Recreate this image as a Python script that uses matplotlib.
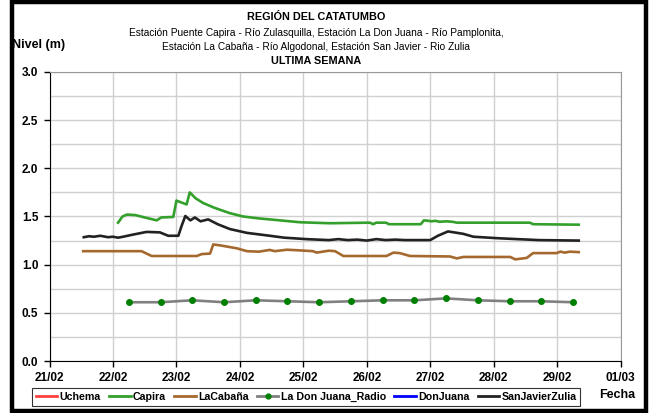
import numpy as np
import pandas as pd
import matplotlib
matplotlib.use("Agg")
import matplotlib.pyplot as plt
import matplotlib.dates as mdates
from matplotlib.lines import Line2D
from matplotlib.patches import Rectangle
from matplotlib.ticker import MultipleLocator, FormatStrFormatter

plt.rcParams["font.family"] = ["Liberation Sans", "DejaVu Sans"]

T0 = pd.Timestamp("2024-02-21")

# Capira: (days since 21/02 00:00, level m)
capira_t = [1.08, 1.15, 1.22, 1.35, 1.50, 1.69, 1.76, 1.95, 2.00, 2.16, 2.21, 2.30, 2.42, 2.60,
            2.84, 3.05, 3.30, 3.63, 3.95, 4.42, 5.05, 5.10, 5.15, 5.30, 5.35, 5.85, 5.90, 5.97,
            6.02, 6.08, 6.15, 6.25, 6.35, 6.42, 7.57, 7.62, 8.34]
capira_v = [1.436, 1.50, 1.52, 1.515, 1.49, 1.46, 1.49, 1.495, 1.665, 1.625, 1.75, 1.69, 1.64, 1.59,
            1.535, 1.50, 1.48, 1.46, 1.44, 1.43, 1.436, 1.42, 1.436, 1.436, 1.42, 1.42, 1.46, 1.455,
            1.45, 1.455, 1.445, 1.45, 1.445, 1.436, 1.436, 1.42, 1.415]

# San Javier - Rio Zulia
sanjavier_t = [0.54, 0.62, 0.70, 0.80, 0.92, 1.00, 1.08, 1.16, 1.30, 1.53, 1.74, 1.87, 2.03, 2.08,
               2.14, 2.22, 2.29, 2.38, 2.50, 2.65, 2.84, 3.11, 3.47, 3.70, 4.05, 4.40, 4.55, 4.70,
               4.85, 5.00, 5.15, 5.30, 5.45, 5.60, 6.00, 6.12, 6.28, 6.52, 6.68, 7.05, 7.37, 7.55,
               7.70, 8.34]
sanjavier_v = [1.285, 1.295, 1.29, 1.30, 1.285, 1.29, 1.28, 1.29, 1.31, 1.34, 1.335, 1.30, 1.30, 1.40,
               1.505, 1.46, 1.49, 1.45, 1.47, 1.42, 1.37, 1.33, 1.30, 1.28, 1.265, 1.255, 1.265, 1.255,
               1.26, 1.25, 1.265, 1.255, 1.26, 1.255, 1.255, 1.30, 1.345, 1.32, 1.29, 1.275, 1.265, 1.26,
               1.255, 1.25]

# La Cabaña - Rio Algodonal
cabana_t = [0.53, 1.45, 1.61, 2.32, 2.40, 2.53, 2.58, 2.69, 2.95, 3.11, 3.30, 3.47, 3.55, 3.74, 3.90,
            4.15, 4.21, 4.40, 4.50, 4.63, 5.31, 5.42, 5.52, 5.68, 6.31, 6.42, 6.52, 7.26, 7.34, 7.52,
            7.62, 7.99, 8.05, 8.12, 8.20, 8.34]
cabana_v = [1.14, 1.14, 1.09, 1.09, 1.11, 1.115, 1.21, 1.20, 1.17, 1.14, 1.135, 1.153, 1.14, 1.155, 1.15,
            1.14, 1.125, 1.145, 1.14, 1.09, 1.09, 1.125, 1.12, 1.09, 1.085, 1.065, 1.08, 1.08, 1.055, 1.07,
            1.12, 1.12, 1.135, 1.125, 1.135, 1.13]

# La Don Juana (radio), every 12 h
radio_t = [1.25, 1.75, 2.25, 2.75, 3.25, 3.75, 4.25, 4.75, 5.25, 5.75, 6.25, 6.75, 7.25, 7.75, 8.25]
radio_v = [0.61, 0.61, 0.63, 0.61, 0.63, 0.62, 0.61, 0.62, 0.63, 0.63, 0.65, 0.63, 0.62, 0.62, 0.61]


def to_dt(days):
    return T0 + pd.to_timedelta(np.asarray(days), unit="D")


fig = plt.figure(figsize=(6.5, 4.13), dpi=100)
ax = fig.add_axes([0.0762, 0.1259, 0.8786, 0.6998])

GREEN, BROWN, DARK = "#33a02c", "#a5692f", "#222222"
ax.plot(to_dt(capira_t), capira_v, color=GREEN, lw=1.9, zorder=3)
ax.plot(to_dt(sanjavier_t), sanjavier_v, color=DARK, lw=1.9, zorder=3)
ax.plot(to_dt(cabana_t), cabana_v, color=BROWN, lw=1.9, zorder=3)
ax.plot(to_dt(radio_t), radio_v, color="#808080", lw=1.9, marker="o", ms=4,
        mfc="#008000", mec="#008000", zorder=3)

ax.set_xlim(T0, T0 + pd.Timedelta(days=9))
ax.set_ylim(0, 3)
ax.xaxis.set_major_locator(mdates.DayLocator())
ax.xaxis.set_major_formatter(mdates.DateFormatter("%d/%m"))
ax.yaxis.set_major_locator(MultipleLocator(0.5))
ax.yaxis.set_minor_locator(MultipleLocator(0.25))
ax.yaxis.set_major_formatter(FormatStrFormatter("%.1f"))
ax.grid(True, which="both", color="#d0d0d0", lw=1.0, zorder=0)
ax.set_axisbelow(True)
ax.tick_params(axis="both", which="major", direction="out", length=4, width=1, labelsize=8.5, pad=4)
ax.tick_params(axis="y", which="minor", length=0)
for lab in ax.get_xticklabels() + ax.get_yticklabels():
    lab.set_fontweight("bold")
for s in ("top", "right"):
    ax.spines[s].set_color("#999999")
for s in ("left", "bottom"):
    ax.spines[s].set_color("black")

# titles
cx = 0.486
fig.text(cx, 0.958, "REGIÓN DEL CATATUMBO", ha="center", va="center", fontsize=7.8, fontweight="bold")
fig.text(cx, 0.921, "Estación Puente Capira - Río Zulasquilla, Estación La Don Juana - Río Pamplonita,",
         ha="center", va="center", fontsize=7.3)
fig.text(cx, 0.886, "Estación La Cabaña - Río Algodonal, Estación San Javier - Rio Zulia",
         ha="center", va="center", fontsize=7.3)
fig.text(cx, 0.852, "ULTIMA SEMANA", ha="center", va="center", fontsize=7.8, fontweight="bold")
fig.text(0.018, 0.891, "Nivel (m)", ha="left", va="center", fontsize=9, fontweight="bold")
fig.text(0.949, 0.043, "Fecha", ha="center", va="center", fontsize=9, fontweight="bold")

handles = [
    Line2D([], [], color="#ff4040", lw=2),
    Line2D([], [], color=GREEN, lw=2),
    Line2D([], [], color=BROWN, lw=2),
    Line2D([], [], color="#808080", lw=2, marker="o", ms=3.5, mfc="#008000", mec="#008000"),
    Line2D([], [], color="#0000ff", lw=2),
    Line2D([], [], color=DARK, lw=2),
]
labels = ["Uchema", "Capira", "LaCabaña", "La Don Juana_Radio", "DonJuana", "SanJavierZulia"]
leg = fig.legend(handles, labels, loc="center", bbox_to_anchor=(0.471, 0.039), ncol=6,
                 prop={"size": 7.7, "weight": "bold"}, handlelength=2.0, handletextpad=0.2,
                 columnspacing=0.8, borderpad=0.35, frameon=True, fancybox=False)
leg.get_frame().set_edgecolor("black")
leg.get_frame().set_linewidth(0.8)

# outer frame of the figure
fig.patches.append(Rectangle((0.0185, 0.004), 0.975, 0.992, transform=fig.transFigure,
                             fill=False, edgecolor="black", lw=3.2))

fig.savefig("out.png", dpi=100, facecolor="white")
